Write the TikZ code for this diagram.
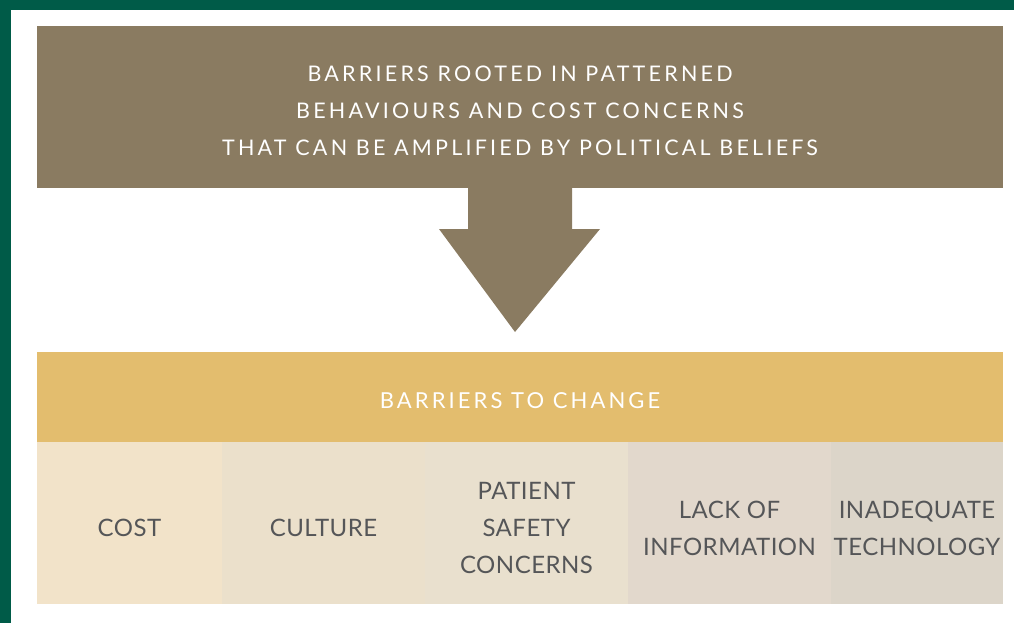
\documentclass[tikz,border=0pt]{standalone}
\usepackage{fontspec}
\setmainfont{Lato}
\newfontfamily\espace[LetterSpace=15]{Lato}
\newfontfamily\espacetitre[LetterSpace=14]{Lato}
\newfontfamily\cellfont[LetterSpace=2]{Lato}
\usetikzlibrary{positioning}
\definecolor{vert}{RGB}{0,91,72}
\definecolor{brun}{RGB}{138,123,97}
\definecolor{jaune}{RGB}{227,189,110}
\definecolor{gristexte}{RGB}{85,86,88}
\definecolor{caseA}{RGB}{242,227,201}
\definecolor{caseB}{RGB}{235,224,203}
\definecolor{caseC}{RGB}{233,224,206}
\definecolor{caseD}{RGB}{226,216,204}
\definecolor{caseE}{RGB}{220,213,201}

\begin{document}
\begin{tikzpicture}[x=1pt,y=-1pt]
%styles des blocs et des cases
\tikzset{bloc/.style={fill=brun,inner sep=0pt,outer sep=0pt},
         texteblanc/.style={text=white,inner sep=0pt,align=center},
         case/.style={inner sep=0pt,outer sep=0pt,minimum height=162pt},
         textecase/.style={inner sep=0pt,text=gristexte,align=center,font=\cellfont\fontsize{24}{37}\selectfont}}
\useasboundingbox (0,0) rectangle (1014,623);
%cadre vert
\fill[vert] (0,0) rectangle (1014,10);
\fill[vert] (0,0) rectangle (11,623);

\node[bloc,minimum width=966pt,minimum height=162pt] (haut) at (520,107) {};
\node[texteblanc,font=\espace\fontsize{21.5}{37}\selectfont] (hautT) at ([yshift=-4pt]haut.center) {BARRIERS ROOTED IN PATTERNED\\BEHAVIOURS AND COST CONCERNS\\THAT CAN BE AMPLIFIED BY POLITICAL BELIEFS};

\node[bloc,fill=jaune,minimum width=966pt,minimum height=90pt] (barre) at (520,397) {};
\node[texteblanc,font=\espacetitre\fontsize{22}{37}\selectfont] (barreT) at ([yshift=-4pt]barre.center) {BARRIERS TO CHANGE};

%la grosse flèche
\fill[brun] ([xshift=-52pt]haut.south) -- ++(0,41) -- (439,229) -- (515,332) -- (600,229) -- ([xshift=52pt]haut.south |- 0,229) -- ([xshift=52pt]haut.south) -- cycle;

%les cases
\node[case,fill=caseA,minimum width=185pt,anchor=north west] (cout) at (barre.south west) {};
\node[case,fill=caseB,minimum width=203pt,right=0pt of cout] (culture) {};
\node[case,fill=caseC,minimum width=203pt,right=0pt of culture] (securite) {};
\node[case,fill=caseD,minimum width=203pt,right=0pt of securite] (info) {};
\node[case,fill=caseE,minimum width=172pt,right=0pt of info] (techno) {};

\node[textecase] (coutT) at ([yshift=-5pt]cout.center) {COST};
\node[textecase] (cultureT) at ([yshift=-5pt]culture.center) {CULTURE};
\node[textecase] (securiteT) at ([yshift=-5pt]securite.center) {PATIENT\\SAFETY\\CONCERNS};
\node[textecase] (infoT) at ([yshift=-5pt]info.center) {LACK OF\\INFORMATION};
\node[textecase] (technoT) at ([yshift=-5pt]techno.center) {INADEQUATE\\TECHNOLOGY};
\end{tikzpicture}
\end{document}
